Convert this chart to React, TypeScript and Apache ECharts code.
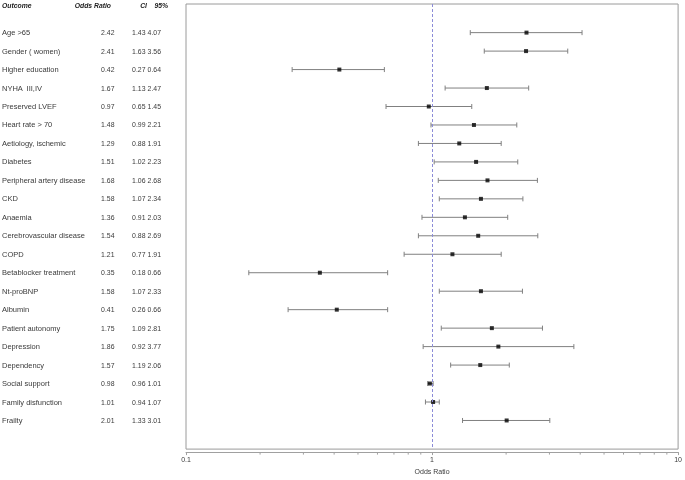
import React, { useEffect, useRef } from "react";
import * as echarts from "echarts";

const outcomes = [
  "Age >65", "Gender ( women)", "Higher education", "NYHA  III,IV", "Preserved LVEF",
  "Heart rate > 70", "Aetiology, ischemic", "Diabetes", "Peripheral artery disease", "CKD",
  "Anaemia", "Cerebrovascular disease", "COPD", "Betablocker treatment", "Nt-proBNP",
  "Albumin", "Patient autonomy", "Depression", "Dependency", "Social support",
  "Family disfunction", "Frailty",
];
const oddsRatio = [2.42, 2.41, 0.42, 1.67, 0.97, 1.48, 1.29, 1.51, 1.68, 1.58, 1.36, 1.54, 1.21, 0.35, 1.58, 0.41, 1.75, 1.86, 1.57, 0.98, 1.01, 2.01];
const ciLow = [1.43, 1.63, 0.27, 1.13, 0.65, 0.99, 0.88, 1.02, 1.06, 1.07, 0.91, 0.88, 0.77, 0.18, 1.07, 0.26, 1.09, 0.92, 1.19, 0.96, 0.94, 1.33];
const ciHigh = [4.07, 3.56, 0.64, 2.47, 1.45, 2.21, 1.91, 2.23, 2.68, 2.34, 2.03, 2.69, 1.91, 0.66, 2.33, 0.66, 2.81, 3.77, 2.06, 1.01, 1.07, 3.01];
const minorTicks = [0.2, 0.3, 0.4, 0.5, 0.6, 0.7, 0.8, 0.9, 2, 3, 4, 5, 6, 7, 8, 9];

const FONT = "'Liberation Sans', Arial, sans-serif";
const FS = 7.5;
const NFS = 6.9;
const TXT = "#3a3a3a";
const Y_MIN = -1.55;
const Y_MAX = 22.55;

export default function App() {
  const ref = useRef<HTMLDivElement>(null);
  useEffect(() => {
    const chart = echarts.init(ref.current!, null, { renderer: "svg" });
    const rows = outcomes.map((_, i) => [i, oddsRatio[i], ciLow[i], ciHigh[i]]);
    const txt = (text: string, x: number, y: number, align: string, extra: any = {}) => ({
      type: "text",
      x,
      y,
      style: { text, fill: TXT, fontSize: FS, fontFamily: FONT, align, verticalAlign: "middle", ...extra },
    });
    const hdr = { fontWeight: "bold", fontStyle: "italic", fontSize: 6.8, fill: "#222" };
    chart.setOption({
      animation: false,
      grid: { left: 186, right: 4, top: 4, bottom: 24, show: true, borderColor: "#9a9a9a", borderWidth: 1, backgroundColor: "transparent" },
      xAxis: {
        type: "log",
        logBase: 10,
        min: 0.1,
        max: 10,
        offset: 3,
        name: "Odds Ratio",
        nameLocation: "middle",
        nameGap: 15,
        nameTextStyle: { color: TXT, fontSize: 7, fontFamily: FONT },
        axisLine: { show: true, onZero: false, lineStyle: { color: "#a0a0a0", width: 1 } },
        axisTick: { show: true, length: 3, lineStyle: { color: "#a0a0a0" } },
        axisLabel: { color: TXT, fontSize: 7, fontFamily: FONT, margin: 4, formatter: (v: number) => String(+v.toPrecision(3)) },
        splitLine: { show: false },
      },
      yAxis: { type: "value", inverse: true, min: Y_MIN, max: Y_MAX, show: false },
      graphic: [
        txt("Outcome", 2, 5, "left", hdr),
        txt("Odds Ratio", 111, 5, "right", hdr),
        txt("CI", 147, 5, "right", hdr),
        txt("95%", 168, 5, "right", hdr),
      ],
      series: [
        {
          type: "custom",
          clip: false,
          data: rows,
          encode: { x: 1, y: 0 },
          renderItem: (params: any, api: any) => {
            const i = api.value(0);
            const lo = api.coord([api.value(2), i]);
            const hi = api.coord([api.value(3), i]);
            const cy = lo[1];
            const lineStyle = { stroke: "#808080", lineWidth: 1 };
            const num = { fontSize: NFS };
            return {
              type: "group",
              children: [
                txt(outcomes[params.dataIndex], 2, cy, "left"),
                txt(api.value(1).toFixed(2), 114.5, cy, "right", num),
                txt(api.value(2).toFixed(2), 145.5, cy, "right", num),
                txt(api.value(3).toFixed(2), 161, cy, "right", num),
                { type: "line", shape: { x1: lo[0], y1: cy, x2: hi[0], y2: cy }, style: lineStyle },
                { type: "line", shape: { x1: lo[0], y1: cy - 2.5, x2: lo[0], y2: cy + 2.5 }, style: lineStyle },
                { type: "line", shape: { x1: hi[0], y1: cy - 2.5, x2: hi[0], y2: cy + 2.5 }, style: lineStyle },
              ],
            };
          },
          z: 2,
        },
        {
          type: "custom",
          clip: false,
          data: minorTicks.map((v) => [v]),
          encode: { x: 0 },
          renderItem: (_p: any, api: any) => {
            const p = api.coord([api.value(0), Y_MAX]);
            return {
              type: "line",
              shape: { x1: p[0], y1: p[1] + 3, x2: p[0], y2: p[1] + 5.5 },
              style: { stroke: "#a0a0a0", lineWidth: 1 },
            };
          },
        },
        {
          type: "scatter",
          data: rows.map((r) => [r[1], r[0]]),
          symbol: "rect",
          symbolSize: 4,
          itemStyle: { color: "#000" },
          z: 3,
          markLine: {
            silent: true,
            symbol: "none",
            label: { show: false },
            lineStyle: { color: "#8c8cd8", type: [3, 2], width: 1 },
            data: [{ xAxis: 1 }],
          },
        },
      ],
    });
    return () => chart.dispose();
  }, []);
  return <div ref={ref} style={{ position: "fixed", left: 0, top: 0, width: 685, height: 480 }} />;
}
